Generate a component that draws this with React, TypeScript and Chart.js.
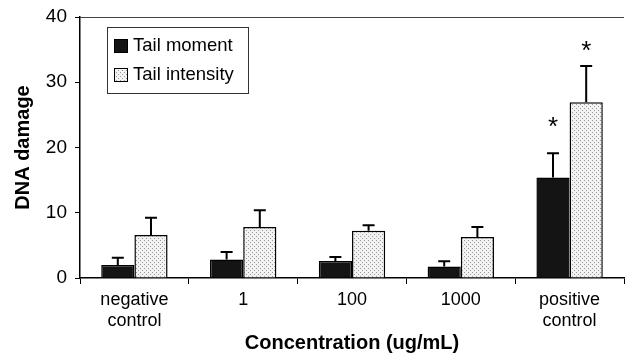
import React, { useEffect, useRef } from "react";
import { Chart, registerables } from "chart.js";

Chart.register(...registerables);

const categories: (string | string[])[] = [["negative", "control"], "1", "100", "1000", ["positive", "control"]];
const seriesNames = ["Tail moment", "Tail intensity"];
const tailMoment = [2.0, 2.85, 2.6, 1.75, 15.4];
const tailMomentErr = [1.1, 1.15, 0.6, 0.8, 3.7];
const tailIntensity = [6.6, 7.8, 7.25, 6.3, 26.95];
const tailIntensityErr = [2.65, 2.6, 0.85, 1.5, 5.55];
// asterisk (significance marker) heights in data units, null = none
const tailMomentStar = [null, null, null, null, 23.8];
const tailIntensityStar = [null, null, null, null, 35.4];
const yTicks = [0, 10, 20, 30, 40];

const FONT = "'Liberation Sans', Arial, Helvetica, sans-serif";

function makePattern(): CanvasPattern | string {
  const c = document.createElement("canvas");
  c.width = 4;
  c.height = 4;
  const ctx = c.getContext("2d");
  if (!ctx) return "#ddd";
  ctx.fillStyle = "#f2f2f2";
  ctx.fillRect(0, 0, 4, 4);
  ctx.fillStyle = "#9a9a9a";
  ctx.fillRect(0, 0, 1, 1);
  ctx.fillRect(2, 2, 1, 1);
  const p = ctx.createPattern(c, "repeat");
  return p || "#ddd";
}

export default function App() {
  const ref = useRef<HTMLCanvasElement>(null);

  useEffect(() => {
    if (!ref.current) return;
    const pattern = makePattern();
    const errs = [tailMomentErr, tailIntensityErr];
    const stars = [tailMomentStar, tailIntensityStar];

    const extras = {
      id: "extras",
      afterDatasetsDraw(chart: any) {
        const ctx = chart.ctx;
        const ys = chart.scales.y;
        const area = chart.chartArea;
        ctx.save();
        // top border line
        ctx.strokeStyle = "#444";
        ctx.lineWidth = 1;
        ctx.beginPath();
        ctx.moveTo(area.left, area.top + 0.5);
        ctx.lineTo(area.right, area.top + 0.5);
        ctx.stroke();
        // error bars + asterisks
        chart.data.datasets.forEach((ds: any, di: number) => {
          const meta = chart.getDatasetMeta(di);
          meta.data.forEach((bar: any, i: number) => {
            const v = ds.data[i];
            const top = ys.getPixelForValue(v + errs[di][i]);
            const base = ys.getPixelForValue(v);
            ctx.strokeStyle = "#000";
            ctx.lineWidth = 2;
            ctx.beginPath();
            ctx.moveTo(bar.x, base);
            ctx.lineTo(bar.x, top);
            ctx.moveTo(bar.x - 6, top);
            ctx.lineTo(bar.x + 6, top);
            ctx.stroke();
            const s = stars[di][i];
            if (s !== null && s !== undefined) {
              ctx.fillStyle = "#000";
              ctx.font = `26px ${FONT}`;
              ctx.textAlign = "center";
              ctx.textBaseline = "middle";
              ctx.fillText("*", bar.x, ys.getPixelForValue(s) + 5);
            }
          });
        });
        // legend box
        const lx = area.left + 27;
        const ly = area.top + 10;
        const lw = 141;
        const lh = 66;
        ctx.fillStyle = "#fff";
        ctx.fillRect(lx, ly, lw, lh);
        ctx.strokeStyle = "#333";
        ctx.lineWidth = 1;
        ctx.strokeRect(lx + 0.5, ly + 0.5, lw, lh);
        ctx.font = `18.5px ${FONT}`;
        ctx.textAlign = "left";
        ctx.textBaseline = "middle";
        chart.data.datasets.forEach((ds: any, di: number) => {
          const cy = ly + 19 + di * 29;
          ctx.fillStyle = ds.backgroundColor;
          ctx.fillRect(lx + 7, cy - 7, 14, 14);
          ctx.strokeStyle = "#000";
          ctx.lineWidth = 1;
          ctx.strokeRect(lx + 7.5, cy - 6.5, 13, 13);
          ctx.fillStyle = "#000";
          ctx.fillText(ds.label, lx + 26, cy);
        });
        ctx.restore();
      },
    };

    const chart = new Chart(ref.current, {
      type: "bar",
      data: {
        labels: categories as any,
        datasets: [
          {
            label: seriesNames[0],
            data: tailMoment,
            backgroundColor: "#141414",
            borderColor: "#000",
            borderWidth: 1.5,
            categoryPercentage: 0.61,
            barPercentage: 1,
          },
          {
            label: seriesNames[1],
            data: tailIntensity,
            backgroundColor: pattern as any,
            borderColor: "#000",
            borderWidth: 1.5,
            categoryPercentage: 0.61,
            barPercentage: 1,
          },
        ],
      },
      plugins: [extras],
      options: {
        responsive: false,
        animation: false,
        layout: { padding: { top: 17, right: 1, left: 0, bottom: 0 } },
        plugins: { legend: { display: false }, tooltip: { enabled: false } },
        scales: {
          x: {
            grid: { display: true, offset: true, drawOnChartArea: false, drawTicks: true, tickLength: 6, color: "#000", lineWidth: 1 },
            border: { display: true, color: "#000", width: 1.5 },
            ticks: { color: "#000", font: { family: FONT, size: 18, lineHeight: 1.2 }, padding: 5, maxRotation: 0, autoSkip: false },
            title: { display: true, text: "Concentration (ug/mL)", color: "#000", font: { family: FONT, size: 20, weight: "bold" }, padding: { top: 0, bottom: -2 } },
            afterFit: (s: any) => { s.height = 75; s.paddingLeft = 0; s.paddingRight = 0; },
          },
          y: {
            min: 0,
            max: 40,
            afterBuildTicks: (s: any) => { s.ticks = yTicks.map((v) => ({ value: v })); },
            grid: { display: true, drawOnChartArea: false, drawTicks: true, tickLength: 5, color: "#000", lineWidth: 1 },
            border: { display: true, color: "#000", width: 1.5 },
            ticks: { color: "#000", font: { family: FONT, size: 19 }, padding: 8 },
            title: { display: true, text: "DNA damage", color: "#000", font: { family: FONT, size: 20, weight: "bold" }, padding: { top: 11, bottom: 0 } },
            afterFit: (s: any) => { s.width = 80; s.paddingTop = 0; s.paddingBottom = 0; },
          },
        },
      },
    });
    return () => chart.destroy();
  }, []);

  return (
    <div style={{ position: "fixed", left: 0, top: 0, width: 625, height: 353, background: "#fff" }}>
      <canvas ref={ref} width={625} height={353} />
    </div>
  );
}
